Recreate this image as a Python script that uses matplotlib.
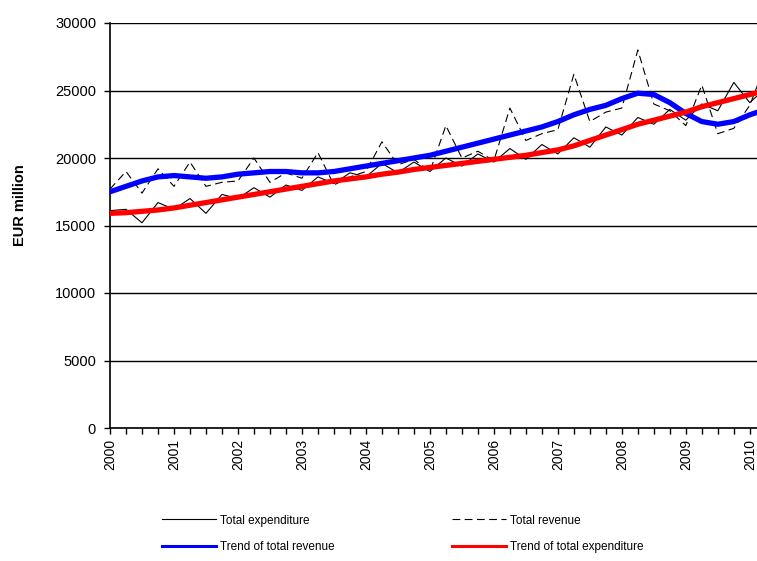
import matplotlib
matplotlib.use("Agg")
import matplotlib.pyplot as plt
from matplotlib.lines import Line2D
from matplotlib.ticker import MultipleLocator

plt.rcParams['font.family'] = ['Liberation Sans', 'DejaVu Sans']

years = ["2000", "2001", "2002", "2003", "2004", "2005", "2006", "2007", "2008", "2009", "2010"]

# quarterly values 2000Q1 .. 2010Q2 (last quarter runs off the right edge)
total_revenue = [17700, 19000, 17400, 19200,
                 17900, 19700, 17900, 18200,
                 18300, 20000, 18200, 18900,
                 18500, 20400, 18000, 18600,
                 19000, 21200, 19500, 19900,
                 19000, 22400, 20000, 20500,
                 19800, 23700, 21300, 21800,
                 22100, 26200, 22700, 23400,
                 23700, 28000, 24000, 23500,
                 22400, 25400, 21800, 22200,
                 23900, 27000]

total_expenditure = [16100, 16200, 15200, 16700,
                     16200, 17000, 15900, 17300,
                     17000, 17800, 17100, 18000,
                     17600, 18600, 18100, 18900,
                     18600, 19600, 18900, 19700,
                     19000, 20000, 19400, 20300,
                     19700, 20700, 19900, 21000,
                     20300, 21500, 20800, 22300,
                     21700, 23000, 22500, 23600,
                     22800, 24000, 23500, 25600,
                     24100, 25200]

trend_revenue = [17500, 17900, 18300, 18600,
                 18700, 18600, 18500, 18600,
                 18800, 18900, 19000, 19000,
                 18900, 18900, 19000, 19200,
                 19400, 19600, 19800, 20000,
                 20200, 20500, 20800, 21100,
                 21400, 21700, 22000, 22300,
                 22700, 23200, 23600, 23900,
                 24400, 24800, 24700, 24100,
                 23300, 22700, 22500, 22700,
                 23200, 23600]

trend_expenditure = [15900, 15950, 16050, 16150,
                     16300, 16500, 16700, 16900,
                     17100, 17300, 17500, 17700,
                     17900, 18100, 18300, 18450,
                     18600, 18800, 18950, 19150,
                     19300, 19450, 19600, 19750,
                     19900, 20050, 20200, 20400,
                     20600, 20900, 21300, 21700,
                     22100, 22500, 22800, 23100,
                     23400, 23800, 24100, 24400,
                     24700, 25000]

x = list(range(len(total_revenue)))

fig = plt.figure(figsize=(7.57, 5.61), dpi=100)
ax = fig.add_axes([110/757, (561-428)/561, 647/757, 405/561])

ax.plot(x, total_expenditure, color='black', lw=0.8, zorder=3)
ax.plot(x, total_revenue, color='black', lw=0.8, dashes=(7, 4), zorder=3)
ax.plot(x, trend_revenue, color='#0000ff', lw=3.8, solid_capstyle='round', zorder=4)
ax.plot(x, trend_expenditure, color='#ff0000', lw=3.8, solid_capstyle='round', zorder=5)

ax.set_ylim(0, 30000)
ax.set_yticks(range(0, 30001, 5000))
ax.set_xlim(0, 40.45)
ax.set_xticks(range(0, 41, 4))
ax.set_xticklabels(years, rotation=90, fontsize=10)
ax.xaxis.set_minor_locator(MultipleLocator(1))
ax.tick_params(axis='y', labelsize=10.5, direction='out', length=4, width=1, pad=6)
ax.tick_params(axis='x', which='both', direction='out', length=4, width=1, pad=4)

ax.yaxis.grid(True, color='black', lw=1)
ax.set_axisbelow(True)
ax.spines['top'].set_visible(False)
ax.spines['right'].set_visible(False)
ax.spines['left'].set_linewidth(1.2)
ax.spines['bottom'].set_linewidth(1.2)

fig.text(20/757, 1 - 205/561, "EUR million", rotation=90, fontsize=10.5,
         fontweight='bold', ha='center', va='center')

leg_kw = dict(loc='center left', frameon=False, fontsize=8.5, handlelength=4.6,
              handletextpad=0.3, labelspacing=1.25, borderpad=0, borderaxespad=0)
h1 = [Line2D([], [], color='black', lw=0.8),
      Line2D([], [], color='#0000ff', lw=2.2)]
fig.legend(h1, ["Total expenditure", "Trend of total revenue"],
           bbox_to_anchor=(162/757, 1 - 534/561), **leg_kw)
h2 = [Line2D([], [], color='black', lw=0.8, dashes=(7, 4)),
      Line2D([], [], color='#ff0000', lw=2.2)]
fig.legend(h2, ["Total revenue", "Trend of total expenditure"],
           bbox_to_anchor=(452/757, 1 - 534/561), **leg_kw)

fig.savefig("out.png", dpi=100)
